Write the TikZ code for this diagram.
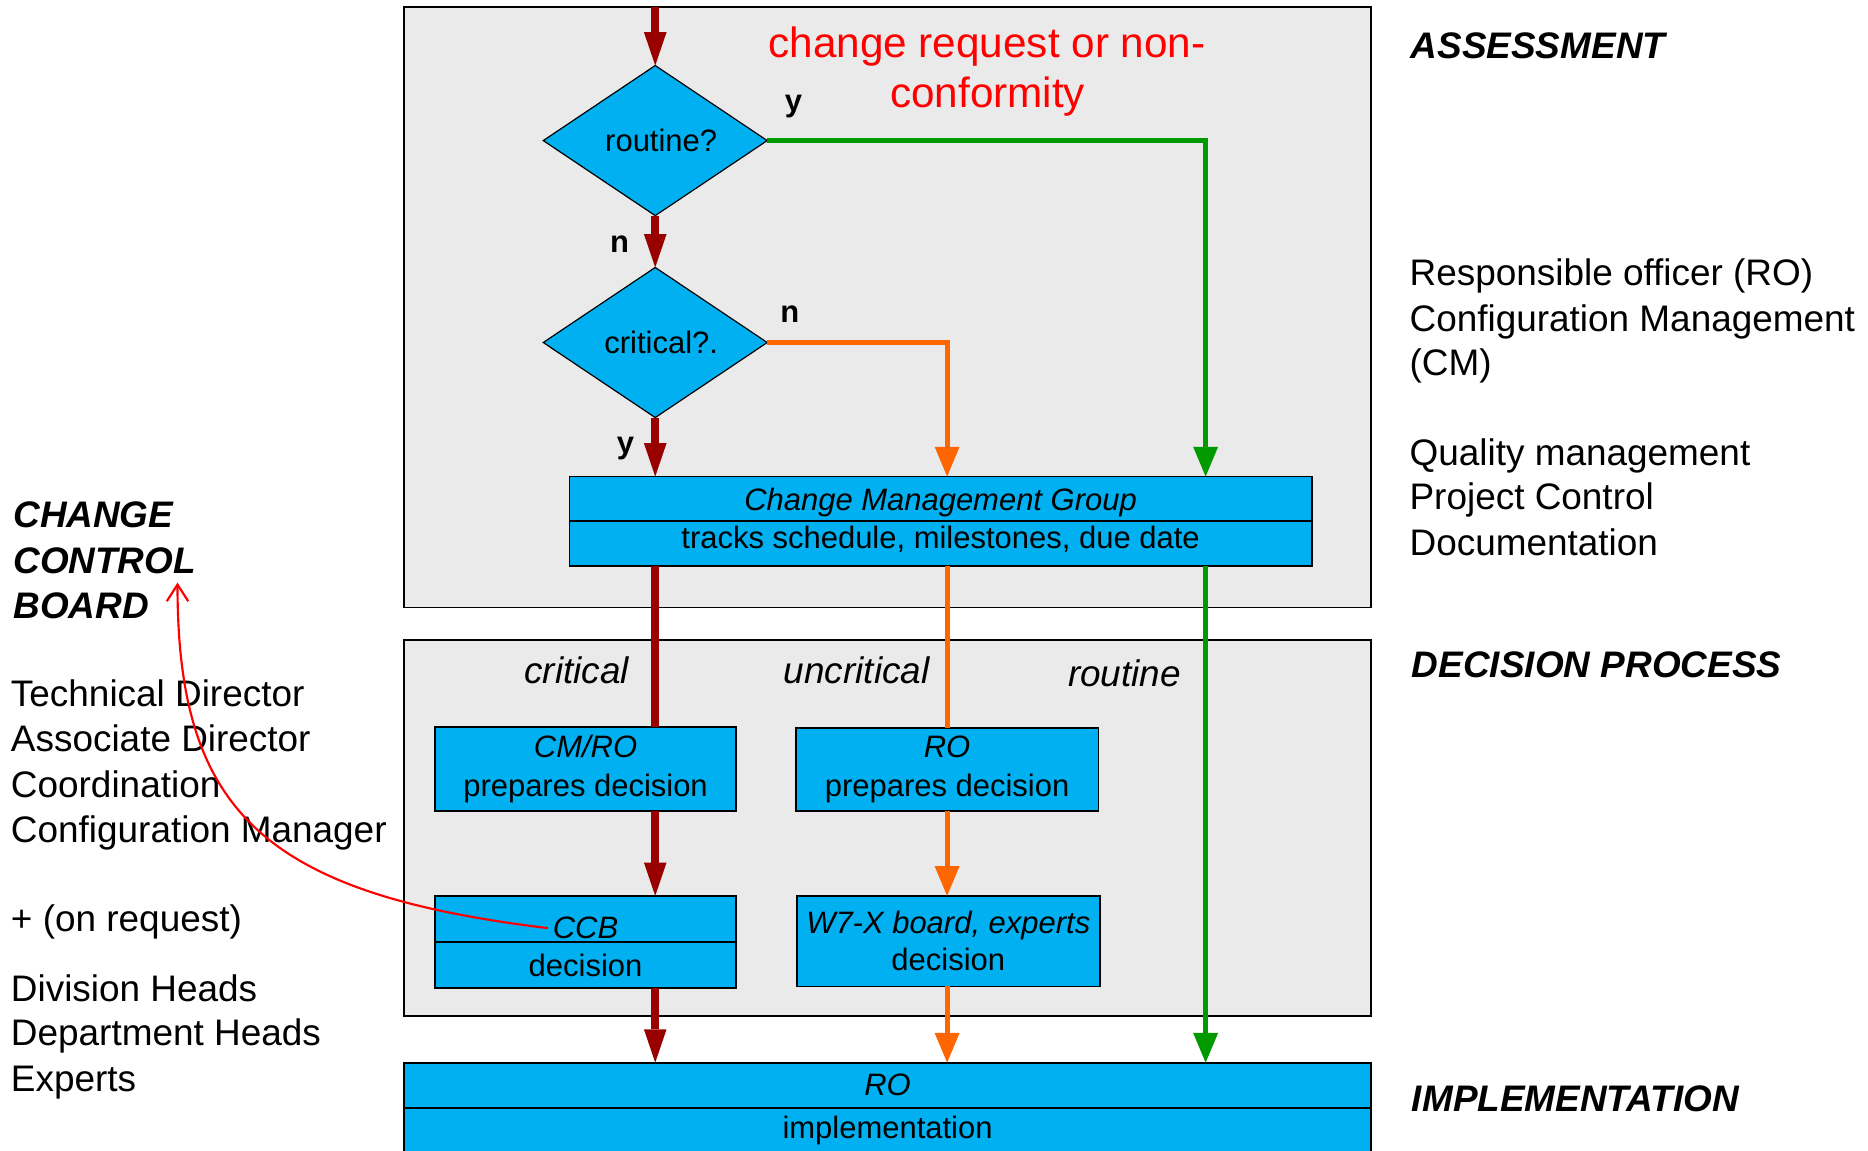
\documentclass[tikz,border=0pt]{standalone}
\usepackage{fontspec}
\setmainfont{Liberation Sans}
\usetikzlibrary{arrows.meta,shapes.geometric}
\definecolor{cblue}{HTML}{00B0F0}
\definecolor{dred}{HTML}{990000}
\definecolor{corange}{HTML}{FF6600}
\definecolor{cgreen}{HTML}{009900}
\definecolor{cgray}{HTML}{EAEAEA}
\definecolor{cred}{HTML}{FF0000}
\newcommand{\fsA}{\fontsize{31}{38}\selectfont}
\newcommand{\fsB}{\fontsize{26}{33}\selectfont}
\newcommand{\fsC}{\fontsize{35.5}{42}\selectfont}
\begin{document}
\begin{tikzpicture}[x=1pt,y=-1pt,
  panel/.style={draw=black,fill=cgray,line width=1.5pt,inner sep=0pt,outer sep=0pt},
  bluebox/.style={draw=black,fill=cblue,line width=1.5pt,inner sep=0pt,outer sep=0pt,font=\fsB,align=center},
  decision/.style={diamond,draw=black,fill=cblue,line width=1pt,minimum width=188pt,minimum height=126pt,inner sep=0pt,outer sep=0pt,font=\fsB},
  txt/.style={font=\fsA,anchor=base west,inner sep=0pt},
  head/.style={font=\fsA\bfseries\itshape,anchor=base west,inner sep=0pt},
  yn/.style={font=\fsB\bfseries,anchor=base,inner sep=0pt},
  branch/.style={font=\fsA\itshape,anchor=base,inner sep=0pt},
  redflow/.style={draw=dred,line width=7pt},
  redarrow/.style={redflow,-{Triangle[width=19pt,length=28pt,line width=0pt]}},
  orangeflow/.style={draw=corange,line width=4pt},
  orangearrow/.style={orangeflow,-{Triangle[width=21pt,length=25pt,line width=0pt]}},
  greenflow/.style={draw=cgreen,line width=4pt},
  greenarrow/.style={greenflow,-{Triangle[width=21pt,length=25pt,line width=0pt]}},
  ccblink/.style={draw=cred,line width=1.8pt,-{Straight Barb[length=14pt,width=18pt,line width=1.8pt]}}
]
\useasboundingbox (0,0) rectangle (1568,966);
\fill[white] (0,0) rectangle (1568,966);

% panels
\node[panel,minimum width=812pt,minimum height=504pt] (p1) at (745,258) {};
\node[panel,minimum width=812pt,minimum height=316pt] (p2) at (745,695) {};

% columns
\coordinate (rcol) at (550,0);
\coordinate (ocol) at (795,0);
\coordinate (gcol) at (1012,0);

% decisions
\node[decision] (routine) at (550,118) {\hspace*{10pt}routine?};
\node[decision] (critical) at (550,287.5) {\hspace*{10pt}critical?.};

% change management group
\node[bluebox,minimum width=623pt,minimum height=37pt,text height=20pt,text depth=0pt] (cmgA) at (789.5,418.5) {\textit{Change Management Group}};
\node[bluebox,minimum width=623pt,minimum height=38pt,text height=14pt,text depth=6pt] (cmgB) at (789.5,456) {tracks schedule, milestones, due date};

% decision process boxes
\node[bluebox,minimum width=253pt,minimum height=71pt] (cmro) at (491.5,645.5) {\textit{CM/RO}\\prepares decision};
\node[bluebox,minimum width=254pt,minimum height=70pt] (ro) at (795,646) {\textit{RO}\\prepares decision};
\node[bluebox,minimum width=253pt,minimum height=39pt] (ccbA) at (491.5,771.5) {};
\node[bluebox,minimum width=253pt,minimum height=38pt] (ccbB) at (491.5,810) {decision};
\node[font=\fsB\itshape,anchor=base,inner sep=4pt] (ccbtext) at (491.5,788) {CCB};
\node[bluebox,minimum width=254pt,minimum height=76pt,font=\fontsize{26}{31}\selectfont] (w7x) at (796,790) {\textit{W7-X board, experts}\\decision};

% implementation
\node[bluebox,minimum width=812pt,minimum height=38pt] (implA) at (745,911) {\textit{RO}};
\node[bluebox,minimum width=812pt,minimum height=38pt] (implB) at (745,949) {implementation};

% flow - top
\draw[redarrow] (rcol |- p1.north) -- (routine.north);
\draw[redarrow] (routine.south) -- (critical.north);
\draw[redarrow] (critical.south) -- (rcol |- cmgA.north);
\draw[greenarrow] (routine.east) -| (gcol |- cmgA.north);
\draw[orangearrow] (critical.east) -| (ocol |- cmgA.north);

% flow - bottom
\draw[redflow] (rcol |- cmgB.south) -- (rcol |- cmro.north);
\draw[redarrow] (rcol |- cmro.south) -- (rcol |- ccbA.north);
\draw[redarrow] (rcol |- ccbB.south) -- (rcol |- implA.north);
\draw[orangeflow] (ocol |- cmgB.south) -- (ro.north);
\draw[orangearrow] (ro.south) -- (ocol |- w7x.north);
\draw[orangearrow] (ocol |- w7x.south) -- (ocol |- implA.north);
\draw[greenarrow] (gcol |- cmgB.south) -- (gcol |- implA.north);

% y / n labels
\node[yn] (ly1) at (666,94) {y};
\node[yn] (ln1) at (520,212) {n};
\node[yn] (ln2) at (663,271) {n};
\node[yn] (ly2) at (525,381) {y};

% red title
\node[font=\fsC,text=cred,anchor=base,inner sep=0pt] (cr1) at (828.5,48) {change request or non-};
\node[font=\fsC,text=cred,anchor=base,inner sep=0pt] (cr2) at (829,90) {conformity};

% branch labels
\node[branch] (bcrit) at (484,574) {critical};
\node[branch] (bunc) at (719,574) {uncritical};
\node[branch] (brout) at (944,576) {routine};

% right column
\node[head] (hass) at (1184,49) {ASSESSMENT};
\node[txt] (r1) at (1183,240) {Responsible officer (RO)};
\node[txt] (r2) at (1183,278) {Configuration Management};
\node[txt] (r3) at (1183,315) {(CM)};
\node[txt] (r4) at (1183,391) {Quality management};
\node[txt] (r5) at (1183,428) {Project Control};
\node[txt] (r6) at (1183,466) {Documentation};
\node[head] (hdec) at (1185,569) {DECISION PROCESS};
\node[head] (himp) at (1185,933) {IMPLEMENTATION};

% left column
\node[head] (c1) at (11,443) {CHANGE};
\node[head] (c2) at (11,481) {CONTROL};
\node[head] (c3) at (11,519) {BOARD};
\node[txt] (l1) at (9,593) {Technical Director};
\node[txt] (l2) at (9,631) {Associate Director};
\node[txt] (l3) at (9,669) {Coordination};
\node[txt] (l4) at (9,707) {Configuration Manager};
\node[txt] (l5) at (9,782) {+ (on request)};
\node[txt] (l6) at (9,841) {Division Heads};
\node[txt] (l7) at (9,878) {Department Heads};
\node[txt] (l8) at (9,916) {Experts};

% CCB link
\coordinate (ccbend) at (149,489);
\draw[ccblink] (ccbtext.west) .. controls (220,750) and (149,680) .. (ccbend);
\end{tikzpicture}
\end{document}
